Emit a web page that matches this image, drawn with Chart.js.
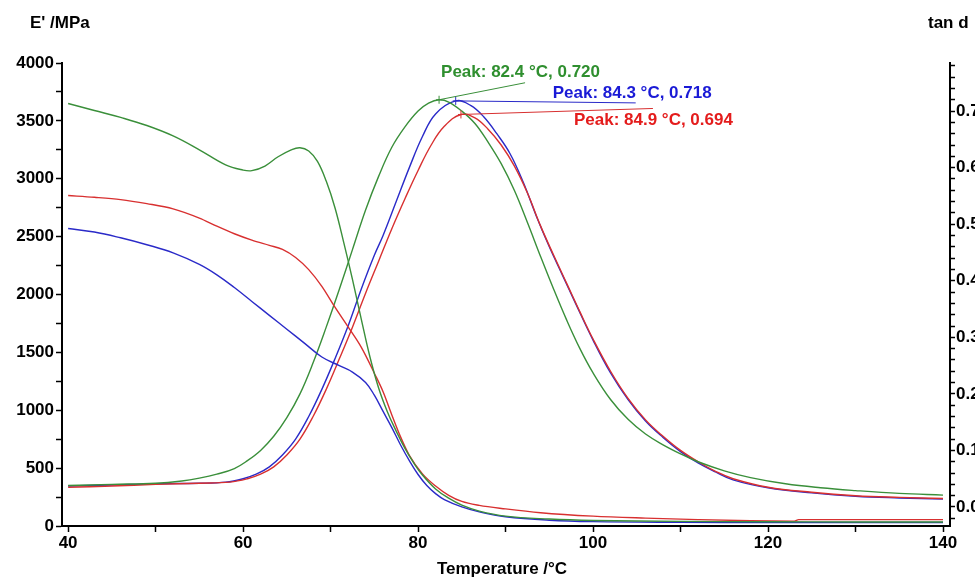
<!DOCTYPE html>
<html><head><meta charset="utf-8">
<script src="https://cdn.jsdelivr.net/npm/chart.js@4.4.1/dist/chart.umd.min.js"></script>
<style>
html,body{margin:0;padding:0;background:#fff;overflow:hidden;width:975px;height:577px}
#wrap{position:relative;width:1000px;height:577px}
</style></head>
<body><div id="wrap"><canvas id="c" width="1000" height="577"></canvas></div>
<script>
// ---- Storage modulus E' (MPa) ----
const tGreenE = [40,43,46,49,52,55,58,60,61,62.5,64,65.5,66.5,67.5,68.5,69.5,70.5,71.5,72.5,73.5,74.5,75.5,76.5,77.5,78.5,79.5,80.5,82,83.5,85,87,90,95,100,110,120,130,140];
const eGreen  = [3650,3590,3530,3460,3370,3250,3120,3075,3070,3110,3190,3250,3268,3240,3150,2980,2750,2450,2130,1790,1460,1190,985,820,670,545,440,320,240,180,128,85,60,48,40,37,35,34];

const tRedE = [40,43,46,49,52,55,57,59,61,63,64.5,66,67.5,69,70.5,72,73.5,75,76,77,78,79,80.5,82,83.5,85,87,90,94,100,106,112,118,123,123.5,130,140];
const eRed  = [2855,2840,2820,2785,2740,2660,2590,2525,2470,2425,2390,2320,2215,2070,1890,1720,1545,1320,1160,960,770,610,450,345,265,212,178,148,115,85,68,55,45,42,55,55,55];

const tBlueE = [40,43,46,49,52,55,57,59,61,63,65,67,69,71,72.5,74,75,76,77,78,79,80,81,82,83,85,87,90,95,100,110,120,130,140];
const eBlue  = [2570,2540,2490,2430,2360,2260,2170,2060,1940,1820,1700,1580,1460,1385,1330,1240,1130,990,850,700,565,445,350,280,228,165,122,80,50,38,32,30,30,30];

// ---- tan d ----
const tGreenT = [40,45,50,53,55,57,59,60.5,62,63.5,65,66.5,68,69.5,71,72.5,74,75.5,77,78.5,80,81.2,82.4,83.5,85,86.5,88,89.5,91,92.5,94,95.5,97,98.5,100,102,104,106,108,110,112,115,118,122,126,130,135,140];
const tanGreen = [0.038,0.040,0.042,0.046,0.051,0.058,0.068,0.082,0.100,0.125,0.158,0.200,0.255,0.318,0.385,0.455,0.525,0.585,0.636,0.672,0.700,0.714,0.720,0.716,0.700,0.678,0.645,0.607,0.560,0.503,0.443,0.385,0.330,0.280,0.237,0.190,0.155,0.129,0.110,0.094,0.080,0.064,0.052,0.041,0.034,0.029,0.024,0.021];

const tBlueT = [40,45,50,55,58,60,61.5,63,64.5,66,67.5,69,70.5,72,73.5,75,76,77.5,79,80.5,82,84.3,86,87.5,89,90.5,92,93.5,95,96.5,98,100,102,104,106,108,110,112,114,116,120,125,130,135,140];
const tanBlue = [0.037,0.039,0.041,0.042,0.044,0.050,0.058,0.071,0.092,0.120,0.160,0.208,0.262,0.320,0.385,0.445,0.480,0.540,0.600,0.655,0.695,0.718,0.710,0.690,0.660,0.625,0.575,0.515,0.460,0.410,0.360,0.295,0.237,0.190,0.152,0.123,0.098,0.078,0.062,0.048,0.034,0.025,0.019,0.016,0.014];

const tRedT = [40,45,50,55,58.5,60.5,62,63.5,65,66.5,68,69.5,71,72.5,74,75.5,77,78.5,80,81.5,83,84.9,86.5,88,89.5,91,92.5,94,95.5,97,98.5,100,102,104,106,108,110,112,114,116,120,125,130,135,140];
const tanRed = [0.035,0.037,0.040,0.042,0.044,0.050,0.058,0.071,0.092,0.120,0.160,0.208,0.262,0.318,0.378,0.435,0.492,0.545,0.595,0.640,0.673,0.694,0.688,0.668,0.640,0.603,0.555,0.497,0.445,0.395,0.345,0.297,0.240,0.192,0.154,0.125,0.100,0.080,0.063,0.050,0.035,0.026,0.020,0.017,0.015];

// ---- peaks ----
const peakTemps = [82.4, 84.3, 84.9];
const peakTans  = [0.720, 0.718, 0.694];

const GREEN = '#3a8f3a', BLUE = '#2a2ac8', RED = '#d83030';
const GREEN_T = '#2f8f2f', BLUE_T = '#1a1ad6', RED_T = '#e41c1c';
const FONT = '"Liberation Sans", Arial, sans-serif';

const zip = (xs, ys) => xs.map((x, i) => ({x, y: ys[i]}));
const ds = (xs, ys, color, axis, mode) => ({
  data: zip(xs, ys), borderColor: color, borderWidth: 1.4, pointRadius: 0,
  fill: false, tension: 0.4, cubicInterpolationMode: mode || 'default', yAxisID: axis, xAxisID: 'x'
});

const titlesPlugin = {
  id: 'titles',
  afterDraw(chart) {
    const {ctx, chartArea: a} = chart;
    ctx.save();
    ctx.fillStyle = '#000';
    ctx.font = 'bold 17px ' + FONT;
    ctx.textBaseline = 'middle';
    ctx.textAlign = 'left';
    ctx.fillText("E' /MPa", a.left - 32, a.top - 40);
    ctx.fillText('tan d', a.right - 22, a.top - 40);
    ctx.textAlign = 'center';
    ctx.fillText('Temperature /\u00B0C', (a.left + a.right) / 2 - 4, a.bottom + 43);
    ctx.restore();
  }
};

const peakStyle = [
  {color: GREEN, text: GREEN_T, lx: 86, ly: -17, tx: 2, ty: -27},
  {color: BLUE,  text: BLUE_T,  lx: 180, ly: 2,  tx: 97, ty: -8},
  {color: RED,   text: RED_T,   lx: 192, ly: -6, tx: 113, ty: 6}
];
const peakPlugin = {
  id: 'peaks',
  afterDatasetsDraw(chart) {
    const {ctx} = chart;
    const xs = chart.scales.x, ys = chart.scales.yT;
    ctx.save();
    peakTemps.forEach((T, i) => {
      const st = peakStyle[i];
      const px = xs.getPixelForValue(T), py = ys.getPixelForValue(peakTans[i]);
      ctx.strokeStyle = st.color; ctx.lineWidth = 1;
      ctx.beginPath(); ctx.moveTo(px, py); ctx.lineTo(px + st.lx, py + st.ly); ctx.stroke();
      ctx.beginPath(); ctx.moveTo(px, py - 4); ctx.lineTo(px, py + 4);
      ctx.moveTo(px - 3, py); ctx.lineTo(px + 3, py); ctx.stroke();
      ctx.fillStyle = st.text;
      ctx.font = 'bold 17px ' + FONT;
      ctx.textAlign = 'left'; ctx.textBaseline = 'middle';
      ctx.fillText('Peak: ' + T.toFixed(1) + ' \u00B0C, ' + peakTans[i].toFixed(3), px + st.tx, py + st.ty);
    });
    ctx.restore();
  }
};

const tickFont = {family: FONT, size: 17, weight: 'bold'};
new Chart(document.getElementById('c'), {
  type: 'line',
  data: {
    datasets: [
      ds(tGreenE, eGreen, GREEN, 'yE'),
      ds(tRedE, eRed, RED, 'yE', 'monotone'),
      ds(tBlueE, eBlue, BLUE, 'yE'),
      ds(tGreenT, tanGreen, GREEN, 'yT'),
      ds(tRedT, tanRed, RED, 'yT'),
      ds(tBlueT, tanBlue, BLUE, 'yT')
    ]
  },
  options: {
    responsive: false, animation: false,
    layout: {padding: {top: 63, left: 0, right: 0, bottom: 0}},
    plugins: {legend: {display: false}, tooltip: {enabled: false}},
    scales: {
      x: {
        type: 'linear', position: 'bottom', min: 39.3, max: 140.8,
        ticks: {stepSize: 10, includeBounds: false, autoSkip: false, maxRotation: 0, color: '#000', font: tickFont, padding: 1,
          callback: v => (Math.round(v) % 20 === 0 ? String(Math.round(v)) : '')},
        grid: {drawOnChartArea: false, tickLength: 6, tickColor: '#000', tickWidth: 1.5},
        border: {color: '#000', width: 2},
        afterFit: s => { s.height = 51; }
      },
      yE: {
        type: 'linear', position: 'left', min: 0, max: 4000,
        ticks: {stepSize: 250, autoSkip: false, color: '#000', font: tickFont, padding: 2,
          callback: v => (v % 500 === 0 ? String(v) : '')},
        grid: {drawOnChartArea: false, tickLength: 6, tickColor: '#000', tickWidth: 1.5},
        border: {color: '#000', width: 2},
        afterFit: s => { s.width = 62; }
      },
      yT: {
        type: 'linear', position: 'right', min: -0.0336, max: 0.785,
        ticks: {stepSize: 0.02, includeBounds: false, autoSkip: false, color: '#000', font: tickFont, padding: 1,
          callback: v => (Math.abs(v * 10 - Math.round(v * 10)) < 1e-6 ? (Math.round(v * 10) / 10).toFixed(1) : '')},
        grid: {drawOnChartArea: false, tickLength: 5, tickColor: '#000', tickWidth: 1.5},
        border: {color: '#000', width: 2},
        afterFit: s => { s.width = 50; }
      }
    }
  },
  plugins: [titlesPlugin, peakPlugin]
});
</script></body></html>
